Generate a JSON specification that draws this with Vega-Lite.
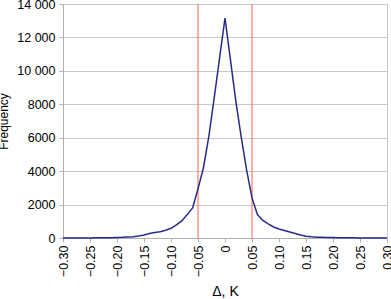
{
  "$schema": "https://vega.github.io/schema/vega-lite/v6.json",
  "width": 324,
  "height": 234,
  "autosize": {"type": "none"},
  "padding": {"left": 63, "top": 4, "right": 4, "bottom": 61},
  "config": {
    "font": "Liberation Sans",
    "view": {"stroke": "#c8c8c8", "strokeWidth": 1}
  },
  "datasets": {
    "hist": [
      {"d": -0.30, "f": 0}, {"d": -0.29, "f": 1}, {"d": -0.28, "f": 2}, {"d": -0.27, "f": 3},
      {"d": -0.26, "f": 4}, {"d": -0.25, "f": 5}, {"d": -0.24, "f": 8}, {"d": -0.23, "f": 10},
      {"d": -0.22, "f": 15}, {"d": -0.21, "f": 20}, {"d": -0.20, "f": 30}, {"d": -0.19, "f": 40},
      {"d": -0.18, "f": 60}, {"d": -0.17, "f": 70}, {"d": -0.16, "f": 120}, {"d": -0.15, "f": 180},
      {"d": -0.14, "f": 270}, {"d": -0.13, "f": 330}, {"d": -0.12, "f": 380}, {"d": -0.11, "f": 460},
      {"d": -0.10, "f": 580}, {"d": -0.09, "f": 780}, {"d": -0.08, "f": 1020}, {"d": -0.07, "f": 1400},
      {"d": -0.06, "f": 1800}, {"d": -0.05, "f": 2950}, {"d": -0.04, "f": 4190}, {"d": -0.03, "f": 6070},
      {"d": -0.02, "f": 8380}, {"d": -0.01, "f": 10780}, {"d": 0.00, "f": 13150},
      {"d": 0.01, "f": 10690}, {"d": 0.02, "f": 8200}, {"d": 0.03, "f": 6050}, {"d": 0.04, "f": 4070},
      {"d": 0.05, "f": 2400}, {"d": 0.06, "f": 1400}, {"d": 0.07, "f": 1050}, {"d": 0.08, "f": 840},
      {"d": 0.09, "f": 660}, {"d": 0.10, "f": 540}, {"d": 0.11, "f": 450}, {"d": 0.12, "f": 360},
      {"d": 0.13, "f": 270}, {"d": 0.14, "f": 180}, {"d": 0.15, "f": 100}, {"d": 0.16, "f": 70},
      {"d": 0.17, "f": 50}, {"d": 0.18, "f": 40}, {"d": 0.19, "f": 30}, {"d": 0.20, "f": 25},
      {"d": 0.21, "f": 20}, {"d": 0.22, "f": 15}, {"d": 0.23, "f": 10}, {"d": 0.24, "f": 8},
      {"d": 0.25, "f": 5}, {"d": 0.26, "f": 4}, {"d": 0.27, "f": 3}, {"d": 0.28, "f": 2},
      {"d": 0.29, "f": 1}, {"d": 0.30, "f": 0}
    ],
    "limits": [{"d": -0.05}, {"d": 0.05}]
  },
  "encoding": {
    "x": {
      "field": "d", "type": "quantitative",
      "scale": {"domain": [-0.3, 0.3], "nice": false},
      "axis": {
        "title": "Δ, K",
        "titleFont": "Liberation Sans",
        "titleFontSize": 14,
        "titleFontWeight": "normal",
        "titleColor": "#000",
        "titlePadding": 8,
        "values": [-0.3, -0.25, -0.2, -0.15, -0.1, -0.05, 0, 0.05, 0.1, 0.15, 0.2, 0.25, 0.3],
        "labelExpr": "abs(datum.value) < 1e-9 ? '0' : (datum.value < 0 ? '−' + format(-datum.value, '.2f') : format(datum.value, '.2f'))",
        "labelAngle": -90,
        "labelAlign": "right",
        "labelBaseline": "middle",
        "labelFontSize": 12.5,
        "labelColor": "#000",
        "labelPadding": 3,
        "labelFlush": false,
        "labelOverlap": false,
        "labelBound": false,
        "grid": false,
        "domainColor": "#b0b0b0",
        "tickColor": "#b0b0b0",
        "tickSize": 4
      }
    }
  },
  "layer": [
    {
      "data": {"name": "limits"},
      "mark": {"type": "rule", "color": "#f4877a", "strokeWidth": 1.3}
    },
    {
      "data": {"name": "hist"},
      "mark": {"type": "line", "color": "#2a2a8a", "strokeWidth": 1.5},
      "encoding": {
        "y": {
          "field": "f", "type": "quantitative",
          "scale": {"domain": [0, 14000], "nice": false},
          "axis": {
            "title": "Frequency",
            "titleFont": "Liberation Sans",
            "titleFontSize": 12,
            "titleFontWeight": "normal",
            "titleColor": "#000",
            "titlePadding": 6,
            "values": [0, 2000, 4000, 6000, 8000, 10000, 12000, 14000],
            "labelExpr": "datum.value >= 10000 ? replace(format(datum.value, ','), ',', ' ') : format(datum.value, 'd')",
            "labelFontSize": 12.5,
            "labelColor": "#000",
            "labelPadding": 4,
            "labelFlush": false,
            "labelOverlap": false,
            "gridColor": "#c8c8c8",
            "gridWidth": 1,
            "domainColor": "#b0b0b0",
            "tickColor": "#b0b0b0",
            "tickSize": 4
          }
        }
      }
    }
  ]
}
